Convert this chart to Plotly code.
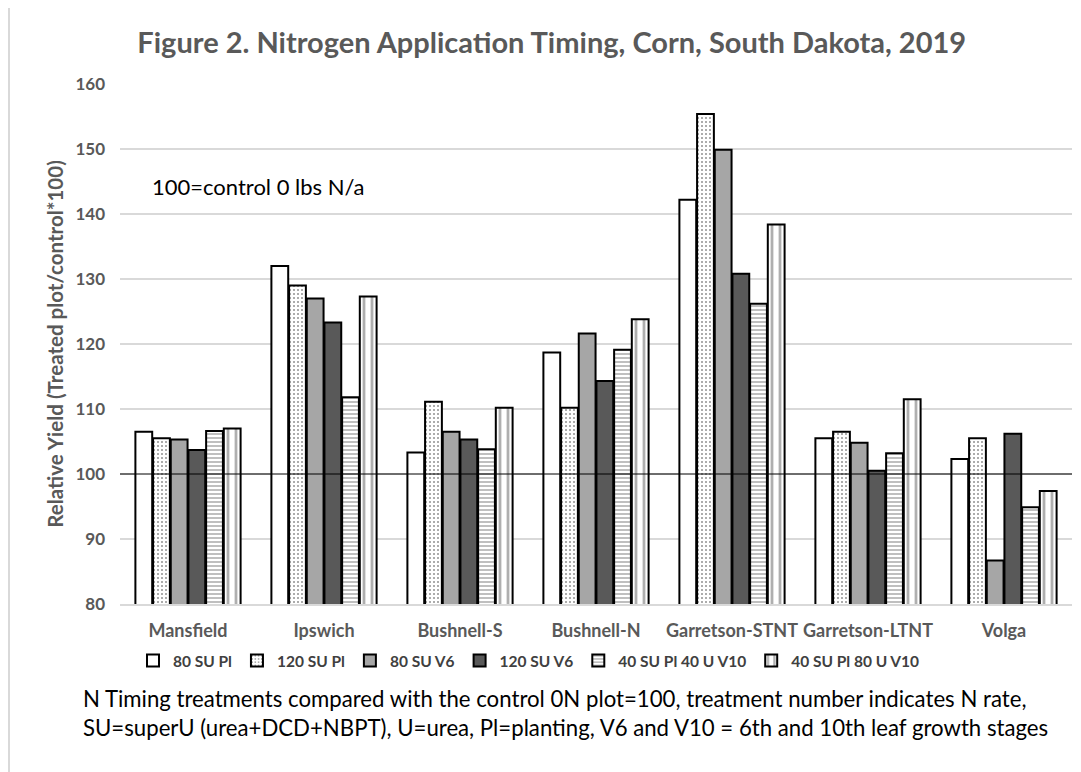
import plotly.graph_objects as go

sites = ["Mansfield", "Ipswich", "Bushnell-S", "Bushnell-N", "Garretson-STNT", "Garretson-LTNT", "Volga"]

su80_pl = [106.5, 132.0, 103.3, 118.7, 142.2, 105.5, 102.3]
su120_pl = [105.5, 129.0, 111.1, 110.2, 155.4, 106.5, 105.5]
su80_v6 = [105.3, 127.0, 106.5, 121.6, 149.9, 104.8, 86.7]
su120_v6 = [103.7, 123.3, 105.3, 114.3, 130.8, 100.5, 106.2]
su40_pl_u40_v10 = [106.6, 111.8, 103.8, 119.1, 126.2, 103.2, 94.9]
su40_pl_u80_v10 = [107.0, 127.3, 110.2, 123.8, 138.4, 111.5, 97.4]

font = "Lato"
gray = "#595959"

# plot area in figure pixels (page body adds 8px offset)
L, R, T, B = 112, 17, 76, 176
W, H = 1081, 772
pw = W - L - R
ph = H - T - B

series = [
    ("80 SU Pl", su80_pl, dict(color="white")),
    ("120 SU Pl", su120_pl, dict(color="white", pattern=dict(shape=".", fgcolor="#222222", size=4, solidity=0.2))),
    ("80 SU V6", su80_v6, dict(color="#A6A6A6")),
    ("120 SU V6", su120_v6, dict(color="#595959")),
    ("40 SU Pl 40 U V10", su40_pl_u40_v10, dict(color="white", pattern=dict(shape="-", fgcolor="#707070", size=4, solidity=0.45))),
    ("40 SU Pl 80 U V10", su40_pl_u80_v10, dict(color="white", pattern=dict(shape="|", fgcolor="#606060", size=8, solidity=0.35))),
]

fig = go.Figure()
for name, vals, mk in series:
    mk = dict(mk)
    mk["line"] = dict(color="black", width=2)
    fig.add_trace(go.Bar(x=sites, y=vals, name=name, marker=mk))

fig.add_shape(type="line", xref="paper", yref="y", x0=0, x1=1, y0=100, y1=100,
              line=dict(color="black", width=1))

# light border at the left edge of the chart image
fig.add_shape(type="line", xref="paper", yref="paper",
              x0=(-L + 1) / pw, x1=(-L + 1) / pw, y0=-B / ph, y1=1 + T / ph,
              line=dict(color="#D9D9D9", width=2))

fig.add_annotation(text="100=control 0 lbs N/a", xref="paper", yref="y", x=30 / pw, y=144.2,
                   xanchor="left", yanchor="middle", showarrow=False,
                   font=dict(family=font, size=22, color="black"))

fig.add_annotation(text="N Timing treatments compared with the control 0N plot=100, treatment number indicates N rate,<br>"
                        "SU=superU (urea+DCD+NBPT), U=urea, Pl=planting, V6 and V10 = 6th and 10th leaf growth stages",
                   xref="paper", yref="paper", x=(557 - L) / pw, y=-(675 - (H - B)) / ph,
                   xanchor="center", yanchor="top", showarrow=False, align="left",
                   font=dict(family=font, size=22.2, color="black"))

fig.update_layout(
    width=W, height=H,
    paper_bgcolor="white", plot_bgcolor="white",
    font=dict(family=font, color=gray),
    title=dict(text="<b>Figure 2. Nitrogen Application Timing, Corn, South Dakota, 2019</b>",
               x=0.503, xanchor="center", y=0.955, yanchor="middle",
               font=dict(family=font, size=29, color=gray)),
    margin=dict(l=L, r=R, t=T, b=B),
    barmode="group", bargap=0.22, bargroupgap=0.05,
    showlegend=True,
    legend=dict(orientation="h", x=(521 - L) / pw, xanchor="center", y=-(636 - (H - B)) / ph, yanchor="top",
                font=dict(family=font, size=15.5, color="#404040", weight="bold"), traceorder="normal"),
    xaxis=dict(tickfont=dict(family=font, size=18, color=gray, weight="bold"), showline=True,
               linecolor="#D9D9D9", linewidth=1.5, ticks="", ticklabelstandoff=10),
    yaxis=dict(range=[80, 160], dtick=10, showgrid=True, gridcolor="#D9D9D9", gridwidth=1.5,
               zeroline=False, ticklabelstandoff=14,
               tickfont=dict(family=font, size=17, color=gray, weight="bold"),
               title=dict(text="<b>Relative Yield (Treated plot/control*100)</b>",
                          font=dict(family=font, size=20.5, color=gray), standoff=6)),
)

fig.write_html("out.html")
